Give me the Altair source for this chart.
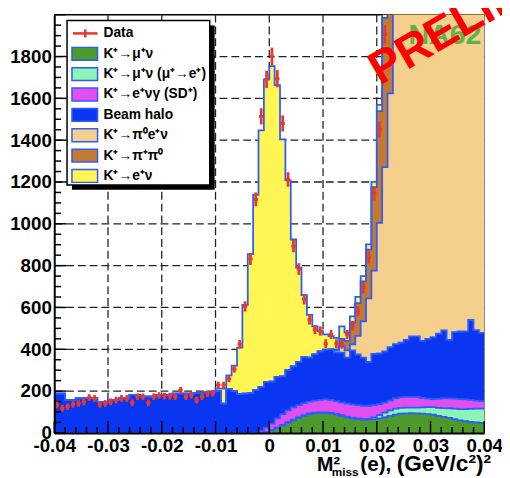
import altair as alt
import pandas as pd

# ---------------- values ----------------
X_MIN, X_MAX, BIN_W, N_BINS = -0.04, 0.04, 0.001, 80

# data counts, bins 0..61 (higher bins are off the top of the plot)
data_counts = [134, 118, 126, 137, 141, 148, 169, 165, 137, 141,
               149, 157, 165, 165, 144, 173, 173, 144, 173, 179,
               176, 176, 173, 204, 173, 180, 157, 173, 187, 190,
               229, 229, 259, 306, 424, 605, 832, 1117, 1514, 1691,
               1800, 1694, 1480, 1212, 894, 784, 640, 541, 494, 487,
               427, 471, 427, 424, 471, 513, 582, 694, 839, 1145,
               1451, 1906]

k_mu_nu = [0] * 39 + [5, 12, 22, 35, 48, 60, 72, 82, 90, 94,
                      95, 95, 93, 88, 82, 75, 70, 66, 64, 64,
                      66, 70, 75, 82, 88, 92, 94, 95, 94, 92,
                      90, 87, 82, 77, 72, 66, 60, 56, 53, 50, 48]

k_mu_nu_mu_e = [0] * 40 + [3, 3, 3, 3, 3, 3, 3, 3, 3, 3,
                           3, 3, 3, 3, 3, 3, 3, 3, 3,
                           8, 15, 22, 26, 28, 28, 27, 26, 27, 30,
                           33, 36, 38, 42, 46, 50, 54, 58, 62, 66, 68]

k_e_nu_gamma_sd = [0] * 38 + [10, 20, 30, 45, 52, 57, 59, 58, 57, 57,
                              58, 60, 62, 62, 61, 60, 62, 63, 64, 63,
                              63, 59, 53, 48, 47, 49, 50, 51, 51, 51,
                              46, 41, 39, 43, 46, 47, 48, 48, 46, 43, 39, 36]

beam_halo = [188, 188, 157, 157, 165, 165, 165, 165, 149, 149,
             157, 157, 165, 165, 182, 182, 173, 173, 173, 182,
             182, 182, 188, 188, 188, 188, 190, 192, 196, 196,
             200, 140, 210, 200, 185, 188, 190, 205,
             210, 218, 200, 198, 180, 192, 196, 207, 220, 210, 221, 232, 238, 242,
             232, 239, 220, 259, 242, 230, 210, 245, 242, 245,
             255, 260, 262, 273, 290, 290, 272, 286, 296, 312,
             325, 280, 318, 323, 326, 382, 337, 326]

k_pi0_e_nu = [0] * 52 + [10, 30, 35, 29, 89, 174, 303, 398, 624, 881,
                         1214, 1900, 2300, 2700, 3100, 3400, 3700, 3900, 4100, 4200,
                         4300, 4300, 4300, 4200, 4100, 4000, 3800, 3600]

k_pi_pi0 = [0] * 52 + [5, 36, 45, 103, 157, 191, 234, 399, 535, 714,
                       700, 600, 400, 200, 80, 30, 10, 10, 10, 10,
                       10, 10, 10, 10, 10, 10, 10, 10]

k_e_nu = [0] * 30 + [12, 72, 65, 122, 223, 424, 665, 934, 1227, 1448,
                     1509, 1395, 1134, 908, 607, 450, 297, 205, 134, 97,
                     73, 63, 55, 60, 40, 30, 30, 25, 25, 25,
                     30, 25, 20] + [10] * 17

x_tick_values = [-0.04, -0.03, -0.02, -0.01, 0, 0.01, 0.02, 0.03, 0.04]
y_tick_values = [0, 200, 400, 600, 800, 1000, 1200, 1400, 1600, 1800]

legend_labels = ["Data", "K⁺→μ⁺ν", "K⁺→μ⁺ν (μ⁺→e⁺)", "K⁺→e⁺νγ (SD⁺)",
                 "Beam halo", "K⁺→π⁰e⁺ν", "K⁺→π⁺π⁰", "K⁺→e⁺ν"]

# ---------------- styling ----------------
FONT = "Liberation Sans"
RED = "#e8392e"
OUTLINE = "#2c5cff"
colors = ["#4c9a2c", "#8cf5b6", "#e24ff0", "#0a36f2", "#f5cf8c", "#c27a32", "#fff654"]
series = [k_mu_nu, k_mu_nu_mu_e, k_e_nu_gamma_sd, beam_halo, k_pi0_e_nu, k_pi_pi0, k_e_nu]
for s in series:
    assert len(s) == N_BINS

W, H = 437, 425

edges = [round(X_MIN + BIN_W * i, 4) for i in range(N_BINS + 1)]

# cumulative stack (ROOT THStack style)
rows = []
cum = [0] * N_BINS
for k, vals in enumerate(series):
    cum = [c + v for c, v in zip(cum, vals)]
    for i in range(N_BINS):
        rows.append({"k": k, "x": edges[i], "y": cum[i]})
    rows.append({"k": k, "x": edges[N_BINS], "y": cum[-1]})
stack_df = pd.DataFrame(rows)

data_df = pd.DataFrame({
    "xc": [round(edges[i] + BIN_W / 2, 5) for i in range(len(data_counts))],
    "n": data_counts,
})

xs = alt.Scale(domain=[X_MIN, X_MAX], nice=False, zero=False)
ys = alt.Scale(domain=[0, 2000], nice=False)

xaxis = alt.Axis(values=x_tick_values,
                 labelExpr="datum.value == 0 ? '0' : (datum.value < 0 ? '-' : '') + format(abs(datum.value), '.2f')",
                 title="", grid=False, ticks=False, domainColor="black", domainWidth=2,
                 labelFont=FONT, labelFontWeight="bold", labelFontSize=19, labelColor="black",
                 labelPadding=4, labelFlush=False, labelOverlap=False, zindex=1)
yaxis = alt.Axis(values=y_tick_values, format="d", title="", grid=False, ticks=False,
                 domainColor="black", domainWidth=2,
                 labelFont=FONT, labelFontWeight="bold", labelFontSize=19, labelColor="black",
                 labelPadding=3, labelOverlap=False, zindex=1)


def X(f):
    return alt.X(f, type="quantitative", scale=xs, axis=xaxis)


def Y(f):
    return alt.Y(f, type="quantitative", scale=ys, axis=yaxis)


one = pd.DataFrame({"o": [0]})
layers = []

# frame (behind the histograms)
layers.append(alt.Chart(one).mark_rule(color="black", strokeWidth=1.5)
              .encode(x=alt.value(0), x2=alt.value(W), y=alt.value(0)))
layers.append(alt.Chart(one).mark_rule(color="#555555", strokeWidth=1)
              .encode(x=alt.value(W), y=alt.value(0), y2=alt.value(H)))

# dashed grid
grid_x = pd.DataFrame({"gx": x_tick_values[1:-1]})
grid_y = pd.DataFrame({"gy": y_tick_values[1:]})
layers.append(alt.Chart(grid_x).mark_rule(color="#222222", strokeWidth=1.3, strokeDash=[8, 4])
              .encode(x=X("gx"), y=alt.value(0), y2=alt.value(H)))
layers.append(alt.Chart(grid_y).mark_rule(color="#222222", strokeWidth=1.3, strokeDash=[8, 4])
              .encode(y=Y("gy"), x=alt.value(0), x2=alt.value(W)))

# stacked histograms, drawn from the total downwards
for k in reversed(range(len(series))):
    base = alt.Chart(stack_df).transform_filter(alt.datum.k == k)
    layers.append(base.mark_area(interpolate="step-after", color=colors[k], clip=True)
                  .encode(x=X("x"), y=Y("y")))
    layers.append(base.mark_line(interpolate="step-after", color=OUTLINE, strokeWidth=1.8, clip=True)
                  .encode(x=X("x"), y=Y("y")))

# inner ticks
x_minor = [round(X_MIN + 0.002 * i, 4) for i in range(41) if i % 5]
y_minor = [v for v in range(0, 2001, 50) if v % 200]
layers.append(alt.Chart(pd.DataFrame({"tx": x_tick_values})).mark_rule(color="black", strokeWidth=1.5)
              .encode(x=X("tx"), y=alt.value(H), y2=alt.value(H - 12)))
layers.append(alt.Chart(pd.DataFrame({"tx": x_minor})).mark_rule(color="black", strokeWidth=1.5)
              .encode(x=X("tx"), y=alt.value(H), y2=alt.value(H - 6)))
layers.append(alt.Chart(pd.DataFrame({"ty": y_tick_values + [2000]})).mark_rule(color="black", strokeWidth=1.5)
              .encode(y=Y("ty"), x=alt.value(0), x2=alt.value(12)))
layers.append(alt.Chart(pd.DataFrame({"ty": y_minor})).mark_rule(color="black", strokeWidth=1.5)
              .encode(y=Y("ty"), x=alt.value(0), x2=alt.value(7)))

# data points with error bars
dbase = alt.Chart(data_df).transform_calculate(
    e="max(sqrt(datum.n), 16)").transform_calculate(
    lo="datum.n - datum.e", hi="datum.n + datum.e",
    xl="datum.xc - 0.0004", xh="datum.xc + 0.0004")
layers.append(dbase.mark_rule(color=RED, strokeWidth=2.8)
              .encode(x=X("xc"), y=Y("lo"), y2=alt.Y2("hi")))
layers.append(dbase.mark_rule(color=RED, strokeWidth=2.8)
              .encode(x=X("xl"), x2=alt.X2("xh"), y=Y("n")))

# legend
legend_df = pd.DataFrame({"idx": list(range(len(legend_labels))),
                          "label": legend_labels,
                          "fill": [RED] + colors})
layers.append(alt.Chart(one).mark_rect(color="black")
              .encode(x=alt.value(18), x2=alt.value(163), y=alt.value(11), y2=alt.value(178)))
layers.append(alt.Chart(one).mark_rect(fill="white", stroke="black", strokeWidth=1.5)
              .encode(x=alt.value(13), x2=alt.value(158), y=alt.value(6), y2=alt.value(173)))
lbase = alt.Chart(legend_df).transform_calculate(yc="19 + 20.7 * datum.idx").transform_calculate(
    ytop="datum.yc - 6.5", ybot="datum.yc + 6.5")
layers.append(lbase.transform_filter("datum.idx > 0")
              .mark_rect(stroke=OUTLINE, strokeWidth=1.5)
              .encode(x=alt.value(18), x2=alt.value(44),
                      y=alt.Y("ytop:Q", scale=None), y2=alt.Y2("ybot:Q"),
                      fill=alt.Color("fill:N", scale=None)))
layers.append(alt.Chart(one).mark_rule(color=RED, strokeWidth=2.6)
              .encode(x=alt.value(19), x2=alt.value(44), y=alt.value(19)))
layers.append(alt.Chart(one).mark_rule(color=RED, strokeWidth=2.6)
              .encode(x=alt.value(31.5), y=alt.value(15), y2=alt.value(23)))
layers.append(lbase.mark_text(align="left", baseline="middle", font=FONT, fontWeight="bold",
                              fontSize=14, color="black")
              .encode(x=alt.value(50), y=alt.Y("yc:Q", scale=None), text="label:N"))

# NA62 logo and PRELIMINARY stamp
layers.append(alt.Chart(one).mark_text(text="NA62", align="left", baseline="alphabetic", font=FONT,
                                       fontWeight="bold", fontSize=29, color="#5cb34c")
              .encode(x=alt.value(360), y=alt.value(30)))
layers.append(alt.Chart(one).mark_text(text="PRELIMINARY", align="left", baseline="alphabetic", font=FONT,
                                       fontWeight="bold", fontSize=47, color="#ff0000", angle=330)
              .encode(x=alt.value(331), y=alt.value(72)))

# x-axis title  M^2_miss(e), (GeV/c^2)^2
layers.append(alt.Chart(one).mark_text(text="M²", align="left", baseline="alphabetic", font=FONT,
                                       fontWeight="bold", fontSize=20, color="black")
              .encode(x=alt.value(267), y=alt.value(464)))
layers.append(alt.Chart(one).mark_text(text="miss", align="left", baseline="alphabetic", font=FONT,
                                       fontWeight="bold", fontSize=12, color="black")
              .encode(x=alt.value(282), y=alt.value(469)))
layers.append(alt.Chart(one).mark_text(text="(e),", align="left", baseline="alphabetic", font=FONT,
                                       fontWeight="bold", fontSize=21, color="black")
              .encode(x=alt.value(311), y=alt.value(464)))
layers.append(alt.Chart(one).mark_text(text="(GeV/c²)²", align="left", baseline="alphabetic", font=FONT,
                                       fontWeight="bold", fontSize=23, color="black")
              .encode(x=alt.value(348), y=alt.value(464)))

chart = alt.layer(*layers).properties(
    width=W, height=H, autosize="none",
    padding={"left": 47, "top": 3, "right": 18, "bottom": 42},
    background="white",
).configure_view(strokeWidth=0)

chart.save("out.html", embed_options={"renderer": "svg", "actions": False})
